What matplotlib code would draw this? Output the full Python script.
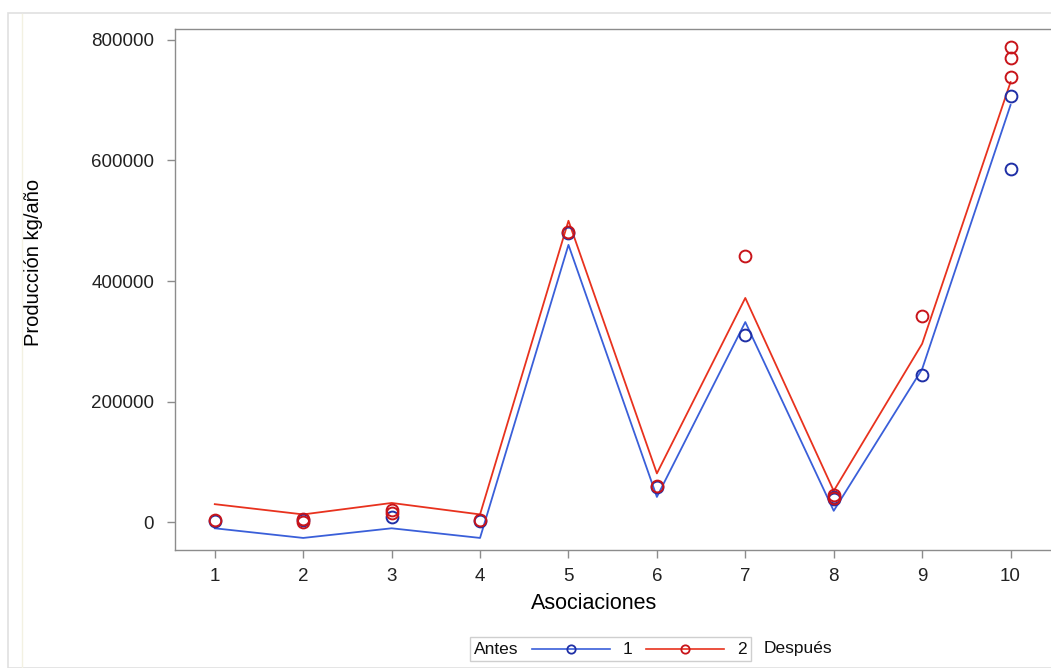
import matplotlib.pyplot as plt
import numpy as np
from matplotlib.lines import Line2D
from matplotlib.patches import Rectangle
from matplotlib.offsetbox import (AnchoredOffsetbox, DrawingArea, HPacker,
                                  PaddedBox, TextArea)

plt.rcParams['font.family'] = ['Liberation Sans', 'DejaVu Sans']

asociaciones = [1, 2, 3, 4, 5, 6, 7, 8, 9, 10]

# fitted lines
antes_fit = [-10000, -26000, -10000, -26000, 460000, 42000, 332000, 19000, 254000, 692000]
despues_fit = [30000, 13000, 32000, 13000, 500000, 81000, 372000, 52000, 296000, 730000]

# observed values
antes_x = [1, 2, 3, 4, 5, 6, 7, 8, 8, 9, 10, 10]
antes_y = [2000, 3000, 9000, 2000, 480000, 58000, 311000, 38000, 42000, 244000, 707000, 586000]
despues_x = [1, 2, 2, 3, 3, 4, 5, 6, 7, 8, 8, 9, 10, 10, 10]
despues_y = [4000, 5000, 1000, 20000, 15000, 4000, 482000, 60000, 441000, 45000, 40000,
             342000, 788000, 770000, 739000]

yticks = [0, 200000, 400000, 600000, 800000]

blue_line = '#3a5fd9'
blue_dot = '#1f2fa6'
red_line = '#e8321e'
red_dot = '#c8141a'

W, H = 1051, 668
fig = plt.figure(figsize=(W / 100, H / 100), dpi=100)
# outer panel border
fig.patches.append(Rectangle((8 / W, 0), 1.2, 1 - 13 / H, transform=fig.transFigure,
                             fill=False, edgecolor='#e0e0e0', linewidth=1.2))
fig.add_artist(Line2D([21.5 / W, 21.5 / W], [0, 1 - 14 / H], transform=fig.transFigure,
                      color='#f3f1e2', lw=1.0))
ax = fig.add_axes([175 / W, 1 - 550 / H, 878 / W, 521 / H])

ax.plot(asociaciones, antes_fit, color=blue_line, lw=1.3, zorder=2)
ax.plot(asociaciones, despues_fit, color=red_line, lw=1.3, zorder=2)
ax.plot(antes_x, antes_y, 'o', ms=8.5, mfc='none', mec=blue_dot, mew=1.4, zorder=3)
ax.plot(despues_x, despues_y, 'o', ms=8.5, mfc='none', mec=red_dot, mew=1.4, zorder=4)

ax.set_xlim(0.55, 10.48)
ax.set_ylim(-46000, 818000)
ax.set_xticks(asociaciones)
ax.set_yticks(yticks)
ax.set_yticklabels([str(v) for v in yticks])

for s in ax.spines.values():
    s.set_color('#8c8c8c')
    s.set_linewidth(1.0)
ax.tick_params(length=6, width=1, color='#8c8c8c', labelsize=13.5,
               labelcolor='#222222')
ax.tick_params(axis='x', pad=7)
ax.tick_params(axis='y', pad=9)

ax.set_xlabel('Asociaciones', fontsize=15.5)
ax.set_ylabel('Producción kg/año', fontsize=14.5)
ax.xaxis.set_label_coords(0.477, -0.0825)
ax.yaxis.set_label_coords(-0.150, 0.551)


def legend_handle(line_color, dot_color):
    # DrawingArea units are points (78 px wide at 100 dpi)
    da = DrawingArea(56, 9, 0, 0)
    da.add_artist(Line2D([0, 56], [4.5, 4.5], color=line_color, lw=1.2))
    da.add_artist(Line2D([28], [4.5], marker='o', ms=6, mfc='none', mec=dot_color, mew=1.3))
    return da


txt = dict(fontsize=12.5, color='#111111')
inner = HPacker(children=[TextArea('Antes', textprops=txt),
                          legend_handle(blue_line, blue_dot),
                          TextArea('1', textprops=txt),
                          legend_handle(red_line, red_dot),
                          TextArea('2', textprops=txt)],
                align='center', pad=0, sep=9.5)
boxed = PaddedBox(inner, pad=3, draw_frame=True)
boxed.patch.set_edgecolor('#cfcfcf')
boxed.patch.set_linewidth(1.0)
boxed.patch.set_boxstyle('square', pad=0)
outer = HPacker(children=[boxed, TextArea('Después', textprops=txt)],
                align='center', pad=0, sep=9)
anch = AnchoredOffsetbox(loc='center', child=outer, frameon=False, pad=0,
                         bbox_to_anchor=(651 / W, 1 - 649 / H),
                         bbox_transform=fig.transFigure, borderpad=0)
fig.add_artist(anch)

fig.savefig('out.png', dpi=100)
